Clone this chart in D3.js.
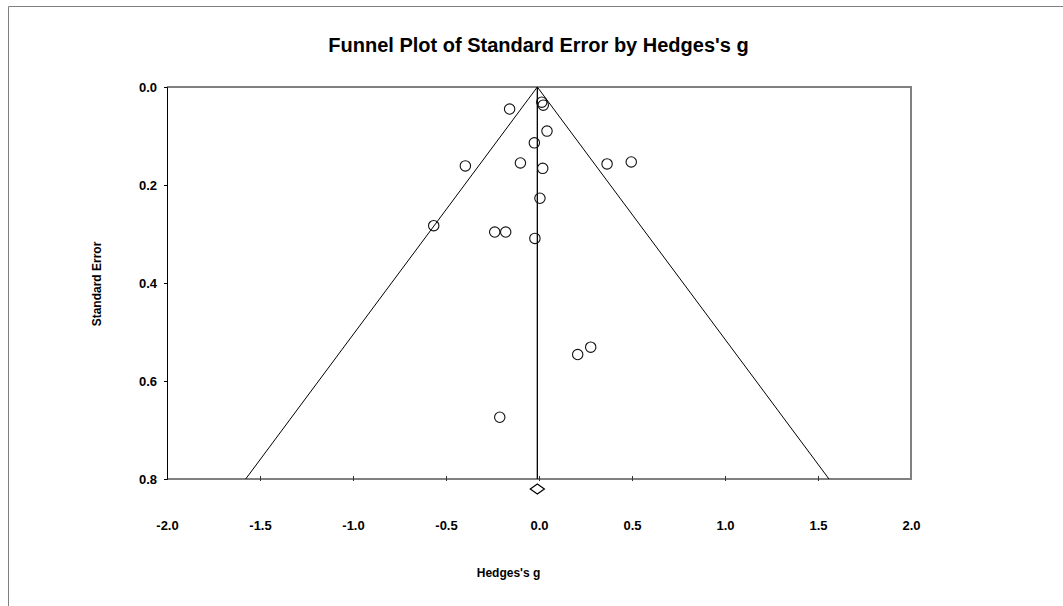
<!DOCTYPE html>
<meta charset="utf-8">
<style>
body { margin: 0; background: #fff; }
text { font-family: Arial, "Liberation Sans", sans-serif; font-weight: bold; fill: #000; }
</style>
<body>
<script src="https://cdn.jsdelivr.net/npm/d3@7"></script>
<script>
// Hedges's g and standard error per study
var hedgesG = [0.015, 0.023, -0.158, 0.043, -0.025, -0.396, -0.100, 0.020, 0.366,
               0.496, 0.005, -0.566, -0.238, -0.179, -0.022, 0.208, 0.278, -0.211];
var stdErr  = [0.031, 0.037, 0.045, 0.090, 0.114, 0.161, 0.155, 0.166, 0.157,
               0.153, 0.227, 0.283, 0.296, 0.296, 0.309, 0.546, 0.531, 0.674];
// pooled estimate with its confidence limits (the diamond)
var pooled = [-0.009, -0.047, 0.029];
var xTicks = [-2.0, -1.5, -1.0, -0.5, 0.0, 0.5, 1.0, 1.5, 2.0];
var yTicks = [0.0, 0.2, 0.4, 0.6, 0.8];

var width = 1063, height = 606;
var svg = d3.select("body").append("svg")
    .attr("width", width)
    .attr("height", height);

// outer frame (only left and top visible)
svg.append("path")
    .attr("d", "M8.5,620V6.5H1070")
    .attr("fill", "none")
    .attr("stroke", "#808080")
    .attr("stroke-width", 1);

var x = d3.scaleLinear().domain([-2, 2]).range([167, 911]),
    y = d3.scaleLinear().domain([0, 0.8]).range([87, 479]);

// plain hyphen for negatives, like the original
var fmt = function(d) { return d.toFixed(1); };

// plot box: top, right, bottom grey; left black
svg.append("path")
    .attr("d", "M" + x(-2) + "," + y(0) + "H" + x(2) + "V" + y(0.8) + "H" + x(-2))
    .attr("fill", "none")
    .attr("stroke", "#808080")
    .attr("stroke-width", 2);

// y axis
var yAxis = svg.append("g")
    .attr("transform", "translate(" + x(-2) + ",0)")
    .call(d3.axisLeft(y).tickValues(yTicks).tickFormat(fmt).tickSize(3).tickPadding(7));
yAxis.select(".domain").attr("stroke", "#000");
yAxis.selectAll("text").style("font-size", "13px");

// x axis: labels well below the line, small crossing ticks
var xAxis = svg.append("g")
    .attr("transform", "translate(0," + y(0.8) + ")")
    .call(d3.axisBottom(x).tickValues(xTicks).tickFormat(fmt).tickSize(0).tickPadding(42));
xAxis.select(".domain").remove();
xAxis.selectAll("text").style("font-size", "13px");
svg.append("g").selectAll("line")
    .data(xTicks.slice(1, -1))
  .enter().append("line")
    .attr("x1", function(d) { return x(d) + 0.5; })
    .attr("x2", function(d) { return x(d) + 0.5; })
    .attr("y1", y(0.8) - 3)
    .attr("y2", y(0.8) + 2)
    .attr("stroke", "#333");

// funnel (95% limits) and the pooled line
var seMax = 0.8;
svg.append("path")
    .attr("d", "M" + x(pooled[0] - 1.96 * seMax) + "," + y(seMax) +
               "L" + x(pooled[0]) + "," + y(0) +
               "L" + x(pooled[0] + 1.96 * seMax) + "," + y(seMax))
    .attr("fill", "none")
    .attr("stroke", "#000")
    .attr("stroke-width", 1);
svg.append("line")
    .attr("x1", x(pooled[0])).attr("x2", x(pooled[0]))
    .attr("y1", y(0)).attr("y2", y(seMax))
    .attr("stroke", "#000")
    .attr("stroke-width", 1.3);

// diamond below the axis
var dy = y(seMax) + 10;
svg.append("path")
    .attr("d", "M" + x(pooled[1]) + "," + dy + "L" + x(pooled[0]) + "," + (dy - 5) +
               "L" + x(pooled[2]) + "," + dy + "L" + x(pooled[0]) + "," + (dy + 5) + "Z")
    .attr("fill", "#fff")
    .attr("stroke", "#000")
    .attr("stroke-width", 1.2);

// studies
svg.append("g").selectAll("circle")
    .data(hedgesG)
  .enter().append("circle")
    .attr("cx", function(d) { return x(d); })
    .attr("cy", function(d, i) { return y(stdErr[i]); })
    .attr("r", 5.2)
    .attr("fill", "none")
    .attr("stroke", "#111")
    .attr("stroke-width", 1.1);

// titles
svg.append("text")
    .attr("x", 538.5).attr("y", 52)
    .attr("text-anchor", "middle")
    .style("font-size", "20px")
    .text("Funnel Plot of Standard Error by Hedges's g");
svg.append("text")
    .attr("x", 508.5).attr("y", 577)
    .attr("text-anchor", "middle")
    .style("font-size", "12px")
    .text("Hedges's g");
svg.append("text")
    .attr("transform", "translate(101,284) rotate(-90)")
    .attr("text-anchor", "middle")
    .style("font-size", "12px")
    .text("Standard Error");
</script>
</body>
